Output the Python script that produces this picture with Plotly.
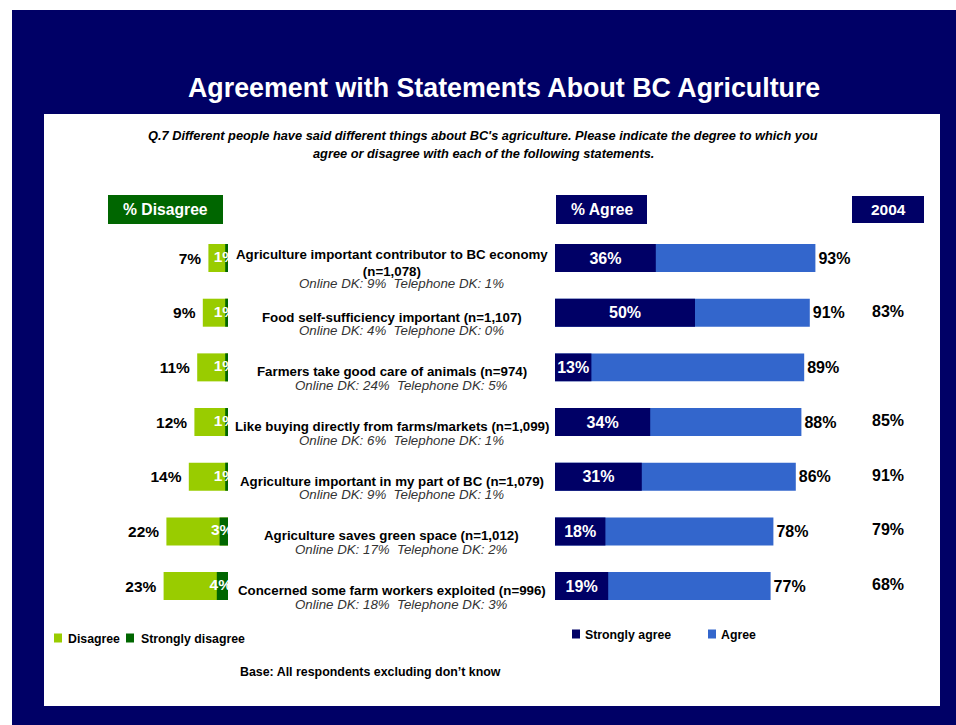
import plotly.graph_objects as go

# ---- data -------------------------------------------------------------
statements = [
    "Agriculture important contributor to BC economy<br>(n=1,078)",
    "Food self-sufficiency important (n=1,107)",
    "Farmers take good care of animals (n=974)",
    "Like buying directly from farms/markets (n=1,099)",
    "Agriculture important in my part of BC (n=1,079)",
    "Agriculture saves green space (n=1,012)",
    "Concerned some farm workers exploited (n=996)",
]
online_dk = ["9%", "4%", "24%", "6%", "9%", "17%", "18%"]
telephone_dk = ["1%", "0%", "5%", "1%", "1%", "2%", "3%"]

disagree_total = [7, 9, 11, 12, 14, 22, 23]
strongly_disagree = [1, 1, 1, 1, 1, 3, 4]
agree_total = [93, 91, 89, 88, 86, 78, 77]
strongly_agree = [36, 50, 13, 34, 31, 18, 19]
agree_2004 = [None, 83, None, 85, 91, 79, 68]

# ---- style ------------------------------------------------------------
NAVY = "#000066"
BLUE = "#3366CC"
LIME = "#99CC00"
GREEN = "#006600"
FONT = "Arial, Liberation Sans, sans-serif"

W, H = 956, 725


def fx(px):
    return px / W


def fy(py):
    return 1 - py / H


PX_PER_PCT = 2.8
ROW_TOP, ROW_PITCH = 230.7, 54.67
n_rows = len(statements)
y_dom = [fy(ROW_TOP + ROW_PITCH * n_rows), fy(ROW_TOP)]

fig = go.Figure()

# Disagree (left panel, reversed axis)
fig.add_trace(go.Bar(
    y=statements, x=disagree_total, orientation="h", xaxis="x", yaxis="y",
    marker=dict(color=LIME, line=dict(width=0)), width=0.512,
    text=[f"{v}%\u00a0" for v in disagree_total], textposition="outside",
    textfont=dict(family=FONT, size=15.5, color="black", weight="bold"),
    cliponaxis=False, name="Disagree",
))
fig.add_trace(go.Bar(
    y=statements, x=strongly_disagree, orientation="h", xaxis="x", yaxis="y",
    marker=dict(color=GREEN, line=dict(width=0)), width=0.512,
    name="Strongly disagree",
))
fig.add_trace(go.Scatter(
    y=statements, x=[v / 2 + 0.6 for v in strongly_disagree], mode="text",
    xaxis="x", yaxis="y",
    text=[f"{v}%" for v in strongly_disagree], textposition="middle center",
    textfont=dict(family=FONT, size=15.5, color="white", weight="bold"),
    cliponaxis=True, showlegend=False, hoverinfo="skip",
))

# Agree (right panel)
fig.add_trace(go.Bar(
    y=statements, x=agree_total, orientation="h", xaxis="x2", yaxis="y",
    marker=dict(color=BLUE, line=dict(width=0)), width=0.512,
    text=[f"{v}%" for v in agree_total], textposition="outside",
    textfont=dict(family=FONT, size=16, color="black", weight="bold"),
    cliponaxis=False, name="Agree",
))
fig.add_trace(go.Bar(
    y=statements, x=strongly_agree, orientation="h", xaxis="x2", yaxis="y",
    marker=dict(color=NAVY, line=dict(width=0)), width=0.512,
    text=[f"{v}%" for v in strongly_agree], textposition="inside",
    insidetextanchor="middle", constraintext="none",
    insidetextfont=dict(family=FONT, size=16, color="white", weight="bold"),
    name="Strongly agree",
))

# 2004 comparison column
fig.add_trace(go.Scatter(
    y=[s for s, v in zip(statements, agree_2004) if v is not None],
    x=[0.5 for v in agree_2004 if v is not None],
    mode="text", xaxis="x3", yaxis="y",
    text=[f"{v}%" for v in agree_2004 if v is not None],
    textposition="middle center",
    textfont=dict(family=FONT, size=16, color="black", weight="bold"),
    cliponaxis=False, showlegend=False, hoverinfo="skip",
))

hidden = dict(showgrid=False, zeroline=False, showline=False,
              showticklabels=False, ticks="", fixedrange=True)

left_px = 100
agree_right = 870
fig.update_layout(
    width=W, height=H,
    margin=dict(l=0, r=0, t=0, b=0),
    paper_bgcolor="white", plot_bgcolor="rgba(0,0,0,0)",
    barmode="overlay", showlegend=False,
    font=dict(family=FONT, color="black"),
    xaxis=dict(domain=[fx(left_px), fx(228)],
               range=[(228 - left_px) / PX_PER_PCT, 0], anchor="y", **hidden),
    xaxis2=dict(domain=[fx(555), fx(agree_right)],
                range=[0, (agree_right - 555) / PX_PER_PCT], anchor="y", **hidden),
    xaxis3=dict(domain=[fx(852), fx(924)], range=[0, 1], anchor="y", **hidden),
    yaxis=dict(domain=y_dom, type="category", categoryorder="array",
               categoryarray=statements, range=[n_rows - 0.5, -0.5], **hidden),
)

shapes = [
    # navy frame and white panel
    dict(type="rect", xref="paper", yref="paper", x0=fx(12), x1=fx(956),
         y0=fy(725), y1=fy(10), fillcolor=NAVY, line=dict(width=0), layer="below"),
    dict(type="rect", xref="paper", yref="paper", x0=fx(44), x1=fx(940),
         y0=fy(706), y1=fy(114), fillcolor="white", line=dict(width=0), layer="below"),
    # column header boxes
    dict(type="rect", xref="paper", yref="paper", x0=fx(108), x1=fx(223),
         y0=fy(224), y1=fy(195), fillcolor=GREEN, line=dict(width=0)),
    dict(type="rect", xref="paper", yref="paper", x0=fx(556), x1=fx(647),
         y0=fy(224), y1=fy(195), fillcolor=NAVY, line=dict(width=0)),
    dict(type="rect", xref="paper", yref="paper", x0=fx(852), x1=fx(924),
         y0=fy(223), y1=fy(196), fillcolor=NAVY, line=dict(width=0)),
]

annotations = [
    dict(text="<b>Agreement with Statements About BC Agriculture</b>",
         x=fx(504), y=fy(88), font=dict(size=26.8, color="white")),
    dict(text="<b><i>Q.7 Different people have said different things about BC's agriculture. "
              "Please indicate the degree to which you</i></b>",
         x=fx(483), y=fy(135), font=dict(size=12.8, color="black")),
    dict(text="<b><i>agree or disagree with each of the following statements.</i></b>",
         x=fx(483), y=fy(153), font=dict(size=12.8, color="black")),
    dict(text="<b>% Disagree</b>", x=fx(165.5), y=fy(209.5),
         font=dict(size=15.7, color="white")),
    dict(text="<b>% Agree</b>", x=fx(601.5), y=fy(209.5),
         font=dict(size=15.7, color="white")),
    dict(text="<b>2004</b>", x=fx(888), y=fy(209.5),
         font=dict(size=15.5, color="white")),
    dict(text="<b>Base: All respondents excluding don\u2019t know</b>",
         x=fx(370), y=fy(672), font=dict(size=12.4, color="black")),
]
for a in annotations:
    a.update(xref="paper", yref="paper", showarrow=False,
             xanchor="center", yanchor="middle")

# statement labels between the two panels
for s, on, tel in zip(statements, online_dk, telephone_dk):
    n_lines = s.count("<br>") + 1
    annotations.append(dict(
        text=f"<b>{s}</b>", x=fx(391.5), xref="paper", y=s, yref="y",
        yshift=-4.5, showarrow=False, xanchor="center", yanchor="middle",
        font=dict(size=13.3, color="black"),
    ))
    annotations.append(dict(
        text=f"<i>Online DK: {on}\u00a0 Telephone DK: {tel}</i>",
        x=fx(401), xref="paper", y=s, yref="y",
        yshift=-(4.5 + 7.5 * (n_lines - 1) + 13.5), showarrow=False,
        xanchor="center", yanchor="middle",
        font=dict(size=13.3, color="#333333"),
    ))

# legend keys
legend_items = [
    (LIME, "Disagree", 54, 66, 638),
    (GREEN, "Strongly disagree", 126, 139, 638),
    (NAVY, "Strongly agree", 572, 583, 634),
    (BLUE, "Agree", 708, 719, 634),
]
for color, label, sq_x, tx_x, cy in legend_items:
    shapes.append(dict(type="rect", xref="paper", yref="paper",
                       x0=fx(sq_x), x1=fx(sq_x + 8), y0=fy(cy + 4.5), y1=fy(cy - 4.5),
                       fillcolor=color, line=dict(width=0)))
    annotations.append(dict(text=f"<b>{label}</b>", x=fx(tx_x), y=fy(cy + 0.5),
                            xref="paper", yref="paper", showarrow=False,
                            xanchor="left", yanchor="middle",
                            font=dict(size=12.3, color="black")))

fig.update_layout(shapes=shapes, annotations=annotations)
fig.write_html("out.html")
